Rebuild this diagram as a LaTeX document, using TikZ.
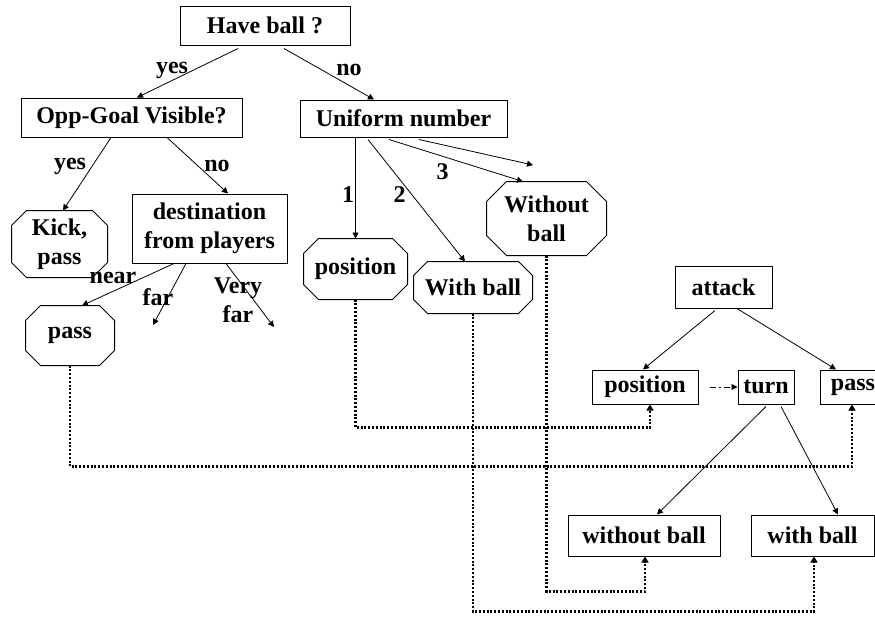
\documentclass[tikz,border=0pt]{standalone}
\usepackage{fontspec}
\setmainfont{Liberation Serif}
\usetikzlibrary{arrows.meta, calc}

\tikzset{
  box/.style={draw, rectangle, inner sep=0pt, line width=0.5pt, font=\fontsize{12}{14.5}\selectfont\bfseries, align=center},
  octa/.style={box, draw=none},
  lbl/.style={font=\fontsize{12}{14.5}\selectfont\bfseries, inner sep=0pt, align=center},
  arr/.style={-{Triangle[length=3pt,width=3pt]}, line width=0.4pt},
  dotarr/.style={-{Triangle[length=3pt,width=3.5pt]}, line width=1.2pt, dash pattern=on 1pt off 0.9pt},
  dasharr/.style={arr, dash pattern=on 3pt off 1.5pt on 1pt off 1.5pt}
}
% octagon frame round a node: name, corner cut
\newcommand{\octframe}[2]{%
  \draw[line width=0.5pt] ($(#1.north west)+(#2,0)$) -- ($(#1.north east)+(-#2,0)$)
    -- ($(#1.north east)+(0,#2)$) -- ($(#1.south east)+(0,-#2)$)
    -- ($(#1.south east)+(-#2,0)$) -- ($(#1.south west)+(#2,0)$)
    -- ($(#1.south west)+(0,-#2)$) -- ($(#1.north west)+(0,#2)$) -- cycle;}

\begin{document}
\begin{tikzpicture}[x=0.5pt, y=-0.5pt]
\useasboundingbox (0,0) rectangle (875,617);
\clip (0,0) rectangle (875,617);

% --- Decision tree ---
\node[box, minimum width=85pt, minimum height=19.5pt] (have) at (265,25.5) {Have ball ?};
\node[box, minimum width=110.5pt, minimum height=19.5pt] (opp) at (131.5,117.5) {Opp-Goal Visible?};
\node[box, minimum width=103.5pt, minimum height=18.5pt] (uniform) at (403.5,118.5) {Uniform number};
\node[octa, minimum width=47.5pt, minimum height=33pt] (kick) at (59.5,244) {Kick,\\pass};
\node[box, minimum width=77.5pt, minimum height=34.5pt] (dest) at (209.5,228.5) {destination\\from players};
\node[octa, minimum width=44pt, minimum height=29.5pt] (passoct) at (70,335.5) {pass};
\node[octa, minimum width=51.5pt, minimum height=30pt] (posoct) at (355.5,269) {position};
\node[octa, minimum width=59pt, minimum height=25.5pt] (withoct) at (473,287.5) {With ball};
\node[octa, minimum width=59.5pt, minimum height=36.5pt] (withoutoct) at (546.5,218.5) {Without\\ball};
\octframe{kick}{15}
\octframe{passoct}{15}
\octframe{posoct}{15}
\octframe{withoct}{14}
\octframe{withoutoct}{20}

\coordinate (farend) at (153,325);
\coordinate (veryfarend) at (274,327);
\coordinate (uniformend) at (533,165);

\draw[arr] ($(have.south)+(-27,3)$) -- ($(opp.north)+(5.5,0)$);
\draw[arr] ($(have.south)+(19,3)$) -- ($(uniform.north)+(-29.5,0)$);
\draw[arr] ($(opp.south)+(-20.5,0)$) -- ($(kick.north)+(3.5,0)$);
\draw[arr] ($(opp.south)+(35.5,0)$) -- ($(dest.north)+(18.5,0)$);
\draw[arr] (posoct.north |- uniform.south) -- (posoct.north);
\draw[arr] ($(uniform.south)+(-35.5,2)$) -- ($(withoct.north)+(-8,0)$);
\draw[arr] ($(uniform.south)+(-14.5,2)$) -- ($(withoutoct.north)+(-23.5,0)$);
\draw[arr] ($(uniform.south)+(15.5,2)$) -- (uniformend);
\draw[arr] ($(dest.south)+(-35.5,0)$) -- ($(passoct.north)+(12,0)$);
\draw[arr] ($(dest.south)+(-23.5,0)$) -- (farend);
\draw[arr] ($(dest.south)+(16.5,0)$) -- (veryfarend);

\node[lbl] (lyes1) at (172,70) {yes};
\node[lbl] (lno1) at (349,70) {no};
\node[lbl] (lyes2) at (70,166) {yes};
\node[lbl] (lno2) at (217,166) {no};
\node[lbl] (lone) at (348,195) {1};
\node[lbl] (ltwo) at (399.5,194.5) {2};
\node[lbl] (lthree) at (442.5,172) {3};
\node[lbl] (lnear) at (113,278) {near};
\node[lbl] (lfar) at (158,297) {far};
\node[lbl] (lveryfar) at (238,300) {Very\\far};

% --- Attack tree ---
\node[box, minimum width=48.5pt, minimum height=21pt] (attack) at (723.5,287) {attack};
\node[box, minimum width=53pt, minimum height=17pt] (posbox) at (645,387) {position};
\node[box, minimum width=28pt, minimum height=17pt] (turn) at (766,387) {turn};
\node[box, minimum width=33pt, minimum height=17pt] (passbox) at (853,387) {pass};
\node[box, minimum width=76pt, minimum height=20.5pt] (withoutbox) at (644,535.5) {without ball};
\node[box, minimum width=61.5pt, minimum height=20.5pt] (withbox) at (812.5,535.5) {with ball};

\draw[arr] ($(attack.south)+(-8.5,2)$) -- ($(posbox.north)+(-2,0)$);
\draw[arr] ($(attack.south)+(13.5,0)$) -- ($(passbox.north)+(-17,0)$);
\draw[dasharr] ($(posbox.east)+(11,0)$) -- (turn.west);
\draw[arr] ($(turn.south)+(0,2)$) -- ($(withoutbox.north)+(13,0)$);
\draw[arr] ($(turn.south)+(15,2)$) -- ($(withbox.north)+(25.5,0)$);

% --- Links between the trees ---
\draw[dotarr] (posoct.south) -- ++(0,128) -| ($(posbox.south)+(5,0)$);
\draw[dotarr] (passoct.south) -- ++(0,101) -| ($(passbox.south)+(-1,0)$);
\draw[dotarr] (withoutoct.south) -- ++(0,336) -| ($(withoutbox.south)+(1,0)$);
\draw[dotarr] (withoct.south) -- ++(0,298) -| ($(withbox.south)+(1.5,0)$);

\end{tikzpicture}
\end{document}
